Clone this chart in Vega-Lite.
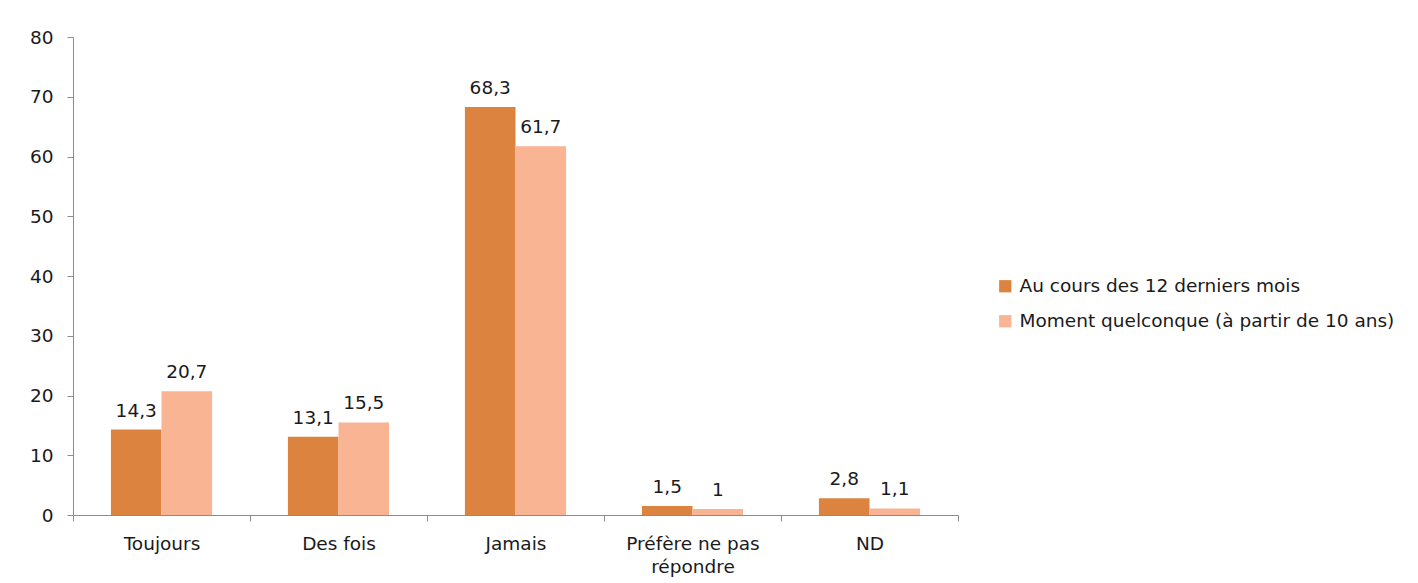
{
  "$schema": "https://vega.github.io/schema/vega-lite/v6.json",
  "autosize": {"type": "none"},
  "padding": {"left": 73, "top": 37, "right": 460, "bottom": 68},
  "width": 885,
  "height": 478,
  "background": "white",
  "config": {
    "view": {"stroke": null},
    "font": "DejaVu Sans",
    "locale": {
      "number": {"decimal": ",", "thousands": " ", "grouping": [3], "currency": ["", " €"]}
    }
  },
  "data": {
    "values": [
      {"categorie": "Toujours", "periode": "Au cours des 12 derniers mois", "pct": 14.3},
      {"categorie": "Toujours", "periode": "Moment quelconque (à partir de 10 ans)", "pct": 20.7},
      {"categorie": "Des fois", "periode": "Au cours des 12 derniers mois", "pct": 13.1},
      {"categorie": "Des fois", "periode": "Moment quelconque (à partir de 10 ans)", "pct": 15.5},
      {"categorie": "Jamais", "periode": "Au cours des 12 derniers mois", "pct": 68.3},
      {"categorie": "Jamais", "periode": "Moment quelconque (à partir de 10 ans)", "pct": 61.7},
      {"categorie": "Préfère ne pas répondre", "periode": "Au cours des 12 derniers mois", "pct": 1.5},
      {"categorie": "Préfère ne pas répondre", "periode": "Moment quelconque (à partir de 10 ans)", "pct": 1.0},
      {"categorie": "ND", "periode": "Au cours des 12 derniers mois", "pct": 2.8},
      {"categorie": "ND", "periode": "Moment quelconque (à partir de 10 ans)", "pct": 1.1}
    ]
  },
  "encoding": {
    "x": {
      "field": "categorie",
      "type": "nominal",
      "sort": null,
      "scale": {"paddingInner": 0, "paddingOuter": 0},
      "axis": {
        "title": null,
        "labelAngle": 0,
        "tickBand": "extent",
        "domainColor": "#8c8c8c",
        "tickColor": "#8c8c8c",
        "tickSize": 6,
        "labelFontSize": 18.5,
        "labelColor": "#1a1a1a",
        "labelPadding": 13,
        "labelLineHeight": 23,
        "labelExpr": "datum.label == 'Préfère ne pas répondre' ? ['Préfère ne pas', 'répondre'] : datum.label"
      }
    },
    "xOffset": {
      "field": "periode",
      "type": "nominal",
      "sort": null,
      "scale": {"paddingInner": 0, "paddingOuter": 0.75}
    },
    "y": {
      "field": "pct",
      "type": "quantitative",
      "scale": {"domain": [0, 80]},
      "axis": {
        "title": null,
        "grid": false,
        "values": [0, 10, 20, 30, 40, 50, 60, 70, 80],
        "labelOverlap": false,
        "domainColor": "#8c8c8c",
        "tickColor": "#8c8c8c",
        "tickSize": 6,
        "labelFontSize": 18.5,
        "labelColor": "#1a1a1a",
        "labelPadding": 14
      }
    }
  },
  "layer": [
    {
      "mark": {"type": "bar"},
      "encoding": {
        "color": {
          "field": "periode",
          "type": "nominal",
          "sort": null,
          "scale": {"range": ["#DC843F", "#F9B593"]},
          "legend": {
            "title": null,
            "orient": "none",
            "legendX": 923,
            "legendY": 240,
            "symbolType": "square",
            "symbolSize": 150,
            "symbolStrokeWidth": 0,
            "labelFontSize": 18.5,
            "labelColor": "#1a1a1a",
            "labelOffset": 5,
            "labelLimit": 500,
            "rowPadding": 16
          }
        }
      }
    },
    {
      "mark": {"type": "text", "baseline": "alphabetic", "dy": -13, "fontSize": 18.5, "color": "#1a1a1a"},
      "encoding": {
        "text": {"field": "pct", "type": "quantitative", "format": ".1~f"}
      }
    }
  ]
}
